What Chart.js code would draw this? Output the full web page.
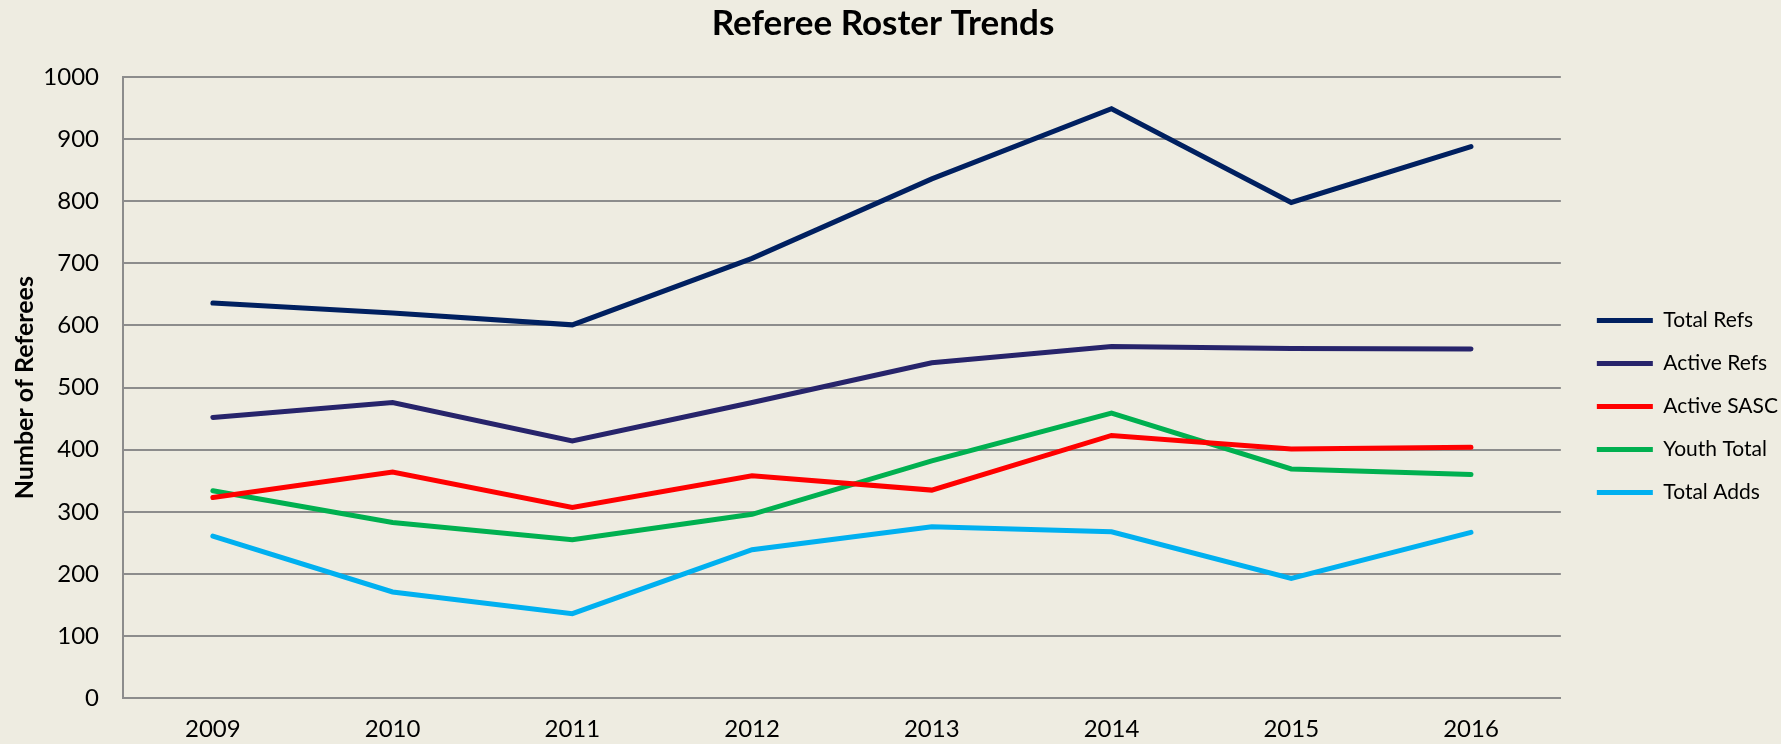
<!DOCTYPE html>
<html>
<head>
<meta charset="utf-8">
<script src="https://cdn.jsdelivr.net/npm/chart.js@4"></script>
<style>
  html, body { margin: 0; padding: 0; background: #eeece1; }
  #wrap { width: 1781px; height: 744px; position: relative; }
</style>
</head>
<body>
<div id="wrap"><canvas id="linechart"></canvas></div>
<script>
const years = ["2009", "2010", "2011", "2012", "2013", "2014", "2015", "2016"];

const totalRefs = [636, 620, 601, 708, 836, 949, 798, 888];
const activeRefs = [452, 476, 414, 476, 540, 566, 563, 562];
const activeSasc = [323, 364, 307, 358, 335, 423, 401, 404];
const youthTotal = [334, 283, 255, 296, 382, 459, 369, 360];
const totalAdds = [261, 171, 136, 239, 276, 268, 193, 267];

const yTicks = [0, 100, 200, 300, 400, 500, 600, 700, 800, 900, 1000];

const gridGray = "#8c8c8c";

function series(label, data, color) {
  return {
    label: label,
    data: data,
    borderColor: color,
    backgroundColor: color,
    borderWidth: 5,
    borderCapStyle: "round",
    borderJoinStyle: "miter",
    pointRadius: 0,
    pointHoverRadius: 0,
    tension: 0,
    fill: false,
  };
}

// nudge the legend block and the title to where the original has them
const blockShift = {
  id: "blockShift",
  afterLayout(chart) {
    const lg = chart.legend;
    if (lg) {
      const dx = 14, dy = 26;
      lg.left += dx; lg.right += dx;
      lg.top += dy; lg.bottom += dy;
    }
    const tb = chart.titleBlock;
    if (tb) {
      tb.left -= 9; tb.right -= 9;
    }
  },
};

const ctx = document.getElementById("linechart").getContext("2d");

new Chart(ctx, {
  type: "line",
  data: {
    labels: years,
    datasets: [
      series("Total Refs", totalRefs, "#002060"),
      series("Active Refs", activeRefs, "#27246b"),
      series("Active SASC", activeSasc, "#ff0000"),
      series("Youth Total", youthTotal, "#00b050"),
      series("Total Adds", totalAdds, "#00b0f0"),
    ],
  },
  plugins: [blockShift],
  options: {
    responsive: true,
    maintainAspectRatio: false,
    animation: false,
    layout: { padding: { left: 10, right: 7, top: 0, bottom: -17 } },
    plugins: {
      title: {
        display: true,
        text: "Referee Roster Trends",
        color: "#000",
        font: { family: "Lato", size: 35, weight: "bold" },
        padding: { top: 3, bottom: 32 },
      },
      legend: {
        position: "right",
        align: "center",
        labels: {
          usePointStyle: true,
          pointStyle: "line",
          pointStyleWidth: 56,
          boxHeight: 5,
          padding: 22,
          color: "#000",
          font: { family: "Lato", size: 21 },
        },
      },
      tooltip: { enabled: false },
    },
    scales: {
      x: {
        offset: true,
        grid: { display: false, drawTicks: false },
        border: { display: true, color: gridGray, width: 2 },
        ticks: {
          color: "#000",
          padding: 17,
          font: { family: "Lato", size: 24 },
          maxRotation: 0,
        },
      },
      y: {
        min: 0,
        max: 1000,
        afterBuildTicks: (scale) => {
          scale.ticks = yTicks.map((v) => ({ value: v }));
        },
        afterFit: (scale) => {
          scale.width = 113;
        },
        grid: { color: gridGray, lineWidth: 2, drawTicks: false },
        border: { display: true, color: gridGray, width: 2 },
        ticks: {
          color: "#000",
          padding: 24,
          font: { family: "Lato", size: 24 },
          callback: (v) => String(v),
        },
        title: {
          display: true,
          text: "Number of Referees",
          color: "#000",
          font: { family: "Lato", size: 25, weight: "bold" },
          padding: { top: 0, bottom: 0 },
        },
      },
    },
  },
});
</script>
</body>
</html>
